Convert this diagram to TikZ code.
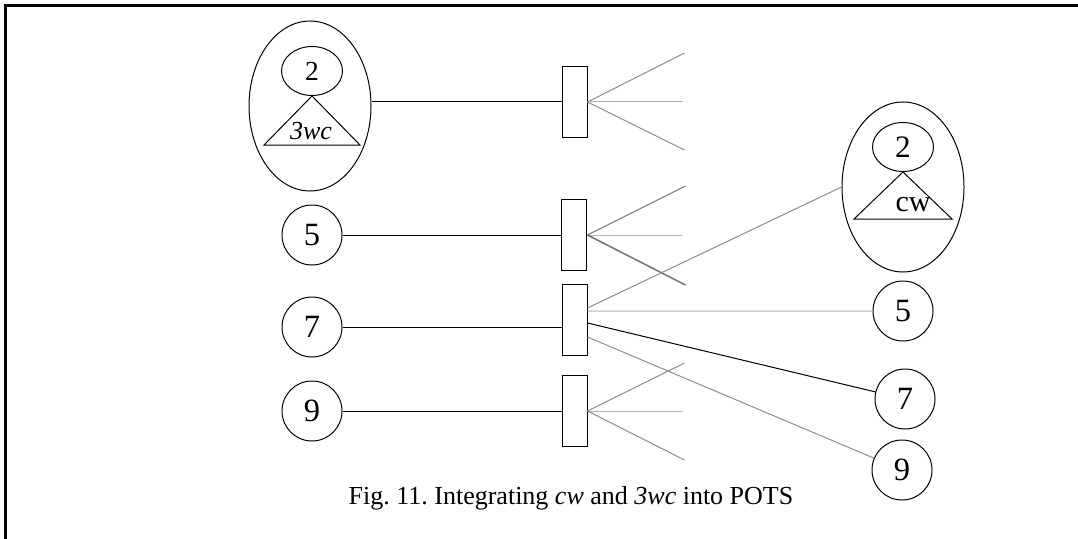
\documentclass[tikz,border=0pt]{standalone}
\usepackage{fontspec}
\setmainfont{Liberation Serif}
\usetikzlibrary{shapes.geometric}
\frenchspacing

\tikzset{
  unit/.style={draw, circle, minimum size=24pt, inner sep=0pt, font=\fontsize{13}{15}\selectfont},
  oval/.style={draw, ellipse, minimum width=48.8pt, minimum height=68pt, inner sep=0pt},
  core/.style={draw, ellipse, minimum width=24.4pt, minimum height=19.6pt, inner sep=0pt},
  switch/.style={draw, rectangle, minimum width=10pt, minimum height=28.4pt, inner sep=0pt},
  fan/.style={black!45},
  fanmid/.style={black!30},
}

\begin{document}
\begin{tikzpicture}[x=0.4pt, y=-0.4pt, font=\fontsize{10.4}{12}\selectfont]
	\useasboundingbox (0,0) rectangle (1078,539);
	\draw[line width=1.2pt] (5,539) -- (5,6) -- (1078,6);

	% feature 3wc on top of 2
	\node[oval] (feat3) at (310,106) {};
	\node[core, font=\fontsize{11}{13}\selectfont] (two3) at (312,71) {2};
	\draw (two3.south) -- ++(-48,49) -- ++(96,0) -- cycle;
	\node (lbl3) at (311,131) {\textit{3wc}};

	% feature cw on top of 2
	\node[oval] (featcw) at (903,187) {};
	\node[core, font=\fontsize{12.5}{14}\selectfont] (twocw) at (903,147) {2};
	\draw (twocw.south) -- ++(-49,47) -- ++(98,0) -- cycle;
	\node[font=\fontsize{12}{14}\selectfont] (lblcw) at (913,205) {cw};

	% left users
	\node[unit] (u5) at (312,235) {5};
	\node[unit] (u7) at (312,327) {7};
	\node[unit] (u9) at (312,411) {9};

	% right users
	\node[unit] (v5) at (903,311) {5};
	\node[unit] (v7) at (905,399) {7};
	\node[unit] (v9) at (902,470) {9};

	% switches
	\node[switch] (sw1) at (574.5,102) {};
	\node[switch, line width=0.75pt] (sw2) at (574,235) {};
	\node[switch] (sw3) at (574.5,320) {};
	\node[switch] (sw4) at (574.5,411) {};

	\draw (sw1.west) -- (sw1.west -| feat3.east);
	\draw (u5.east) -- (sw2.west);
	\draw (u7.east) -- (u7.east -| sw3.west);
	\draw (u9.east) -- (sw4.west);

	% open fans
	\draw[fan] (sw1.east) -- ++(97,-49);
	\draw[fanmid] (sw1.east) -- ++(95,0);
	\draw[fan] (sw1.east) -- ++(97,48);
	\draw[fan, black!55] (sw2.east) -- ++(98,-49);
	\draw[fanmid] (sw2.east) -- ++(95,0);
	\draw[fan, black!55, line width=0.6pt] (sw2.east) -- ++(98,50);
	\draw[fan] (sw4.east) -- ++(97,-48);
	\draw[fanmid] (sw4.east) -- ++(95,0);
	\draw[fan] (sw4.east) -- ++(97,49);

	% connections of 7
	\draw[fan] ([yshift=4.8pt]sw3.east) -- (featcw.west);
	\draw[fanmid] ([yshift=3.6pt]sw3.east) -- (v5.west);
	\draw ([yshift=-1.2pt]sw3.east) -- (v7);
	\draw[fan] ([yshift=-6.8pt]sw3.east) -- (v9);

	\node (cap) at (571,498) {Fig. 11. Integrating \textit{cw} and \textit{3wc} into POTS};
\end{tikzpicture}
\end{document}
